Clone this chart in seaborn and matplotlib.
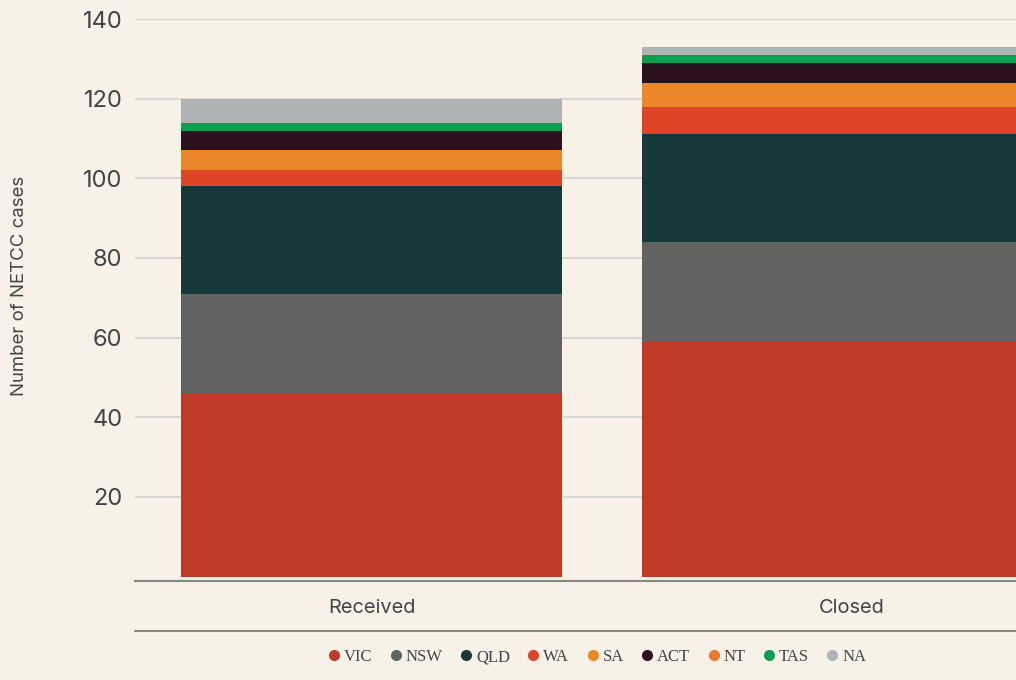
import matplotlib
matplotlib.use("Agg")
import matplotlib.pyplot as plt
from matplotlib.lines import Line2D
import seaborn as sns
import pandas as pd
import numpy as np

categories = ["Received", "Closed"]
states = ["VIC", "NSW", "QLD", "WA", "SA", "ACT", "NT", "TAS", "NA"]
VIC = [46, 59]
NSW = [25, 25]
QLD = [27, 27]
WA = [4, 7]
SA = [5, 6]
ACT = [5, 5]
NT = [0, 0]
TAS = [2, 2]
NA = [6, 2]
yticks = [20, 40, 60, 80, 100, 120, 140]

colors = {
    "VIC": "#bf3b28", "NSW": "#636361", "QLD": "#17393a", "WA": "#de4428",
    "SA": "#eb8728", "ACT": "#2c121e", "NT": "#e87b2a", "TAS": "#0a9e50",
    "NA": "#b1b2b4",
}
series = {"VIC": VIC, "NSW": NSW, "QLD": QLD, "WA": WA, "SA": SA,
          "ACT": ACT, "NT": NT, "TAS": TAS, "NA": NA}

bg = "#f8f1e8"
sns.set_theme(style="white")
plt.rcParams["font.family"] = ["Inter", "DejaVu Sans"]

fig = plt.figure(figsize=(10.16, 6.8), dpi=100, facecolor=bg)
ax = fig.add_axes([135 / 1016, (680 - 580.7) / 680, (1016 - 135) / 1016, (580.7 - 19) / 680])
ax.set_facecolor(bg)

bottom = np.zeros(len(categories))
for s in states:
    vals = np.array(series[s], dtype=float)
    df = pd.DataFrame({"cat": categories, "val": vals})
    sns.barplot(data=df, x="cat", y="val", bottom=bottom, color=colors[s],
                width=0.8265, saturation=1, ax=ax, linewidth=0, zorder=3)
    bottom = bottom + vals

ax.set_xlim(-0.513, 1.398)
ax.set_ylim(-1.05, 140)
ax.set_yticks(yticks)
ax.set_yticklabels([str(t) for t in yticks], fontsize=17, color="#444444")
ax.yaxis.grid(True, color="#d3d0cb", linewidth=1.2, zorder=0)
ax.set_axisbelow(True)
ax.tick_params(axis="y", length=0, pad=9)
ax.tick_params(axis="x", length=0, pad=13)
ax.set_xticks([0, 1.042])
ax.set_xticklabels(categories, fontsize=14.4, color="#444444")
ax.set_xlabel("")
ax.set_ylabel("Number of NETCC cases", fontsize=13.4, color="#444444")
ax.yaxis.set_label_coords((28 - 135) / 881, (580.7 - 286) / 561.7)

for sp in ["top", "right", "left"]:
    ax.spines[sp].set_visible(False)
ax.spines["bottom"].set_color("#8a8680")
ax.spines["bottom"].set_linewidth(1.5)
ax.spines["bottom"].set_zorder(1)

fig.add_artist(Line2D([135 / 1016, 1.0], [(680 - 631) / 680] * 2,
                      color="#8a8680", linewidth=1.5, transform=fig.transFigure))

handles = [Line2D([], [], marker="o", linestyle="", markersize=8,
                  markerfacecolor=colors[s], markeredgewidth=0, label=s) for s in states]
leg = fig.legend(handles=handles, loc="center", bbox_to_anchor=(596 / 1016, 1 - 657 / 680),
                 ncol=9, frameon=False, handletextpad=0.1, columnspacing=0.9,
                 handlelength=1.0,
                 prop={"family": "Liberation Serif", "size": 12})
for t in leg.get_texts():
    t.set_color("#444444")

fig.savefig("out.png", dpi=100, facecolor=bg)
